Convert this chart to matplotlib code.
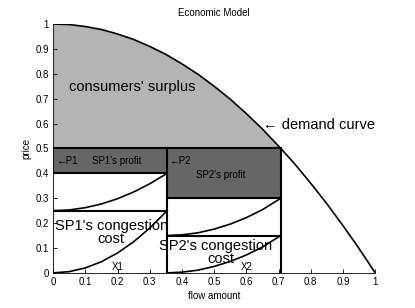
import matplotlib
matplotlib.use("Agg")
import matplotlib.pyplot as plt
import numpy as np

plt.rcParams['font.family'] = ['Liberation Sans', 'DejaVu Sans']

# demand curve
demand_x = [0, 0.05, 0.1, 0.15, 0.2, 0.25, 0.3, 0.35, 0.4, 0.45, 0.5, 0.55, 0.6, 0.65, 0.707, 0.75, 0.8, 0.85, 0.9, 0.95, 1.0]
demand_y = [1.0, 0.998, 0.99, 0.978, 0.96, 0.938, 0.91, 0.878, 0.84, 0.798, 0.75, 0.698, 0.64, 0.578, 0.5, 0.438, 0.36, 0.278, 0.19, 0.098, 0.0]

x1 = 0.354
x2 = 0.707
p_price = 0.5
sp1_top = 0.4
sp1_mid = 0.25
sp2_top = 0.3
sp2_mid = 0.15

# congestion cost curves
c1_x = [0, 0.05, 0.1, 0.15, 0.2, 0.25, 0.3, 0.354]
c1_low = [0, 0.005, 0.02, 0.045, 0.08, 0.125, 0.18, 0.25]
c1_high = [0.25, 0.253, 0.262, 0.277, 0.298, 0.325, 0.358, 0.4]
c2_x = [0.354, 0.4, 0.45, 0.5, 0.55, 0.6, 0.65, 0.707]
c2_low = [0, 0.003, 0.011, 0.026, 0.046, 0.072, 0.104, 0.15]
c2_high = [0.15, 0.153, 0.161, 0.176, 0.196, 0.222, 0.254, 0.3]

fig = plt.figure(figsize=(4.15, 3.08), dpi=100)
ax = fig.add_axes([0.128, 0.114, 0.776, 0.808])

dx = np.array(demand_x)
dy = np.array(demand_y)
m = dx <= x2 + 1e-9
ax.fill_between(dx[m], p_price, dy[m], color='#b4b4b4', lw=0)
ax.fill_between([0, x1], sp1_top, p_price, color='#666666', lw=0)
ax.fill_between([x1, x2], sp2_top, p_price, color='#666666', lw=0)

ax.plot(demand_x, demand_y, 'k', lw=1.2)
ax.plot([0, x2], [p_price, p_price], 'k', lw=1.5)
ax.plot([0, x1], [sp1_top, sp1_top], 'k', lw=1.5)
ax.plot([0, x1], [sp1_mid, sp1_mid], 'k', lw=1.5)
ax.plot([x1, x2], [sp2_top, sp2_top], 'k', lw=1.5)
ax.plot([x1, x2], [sp2_mid, sp2_mid], 'k', lw=1.5)
ax.plot([x1, x1], [0, p_price], 'k', lw=1.5)
ax.plot([x2, x2], [0, p_price], 'k', lw=1.5)
ax.plot(c1_x, c1_low, 'k', lw=1.2)
ax.plot(c1_x, c1_high, 'k', lw=1.2)
ax.plot(c2_x, c2_low, 'k', lw=1.2)
ax.plot(c2_x, c2_high, 'k', lw=1.2)

ax.text(0.05, 0.745, "consumers' surplus", fontsize=10.5, va='center')
ax.text(0.652, 0.595, "\u2190 demand curve", fontsize=10.5, va='center')
ax.text(0.01, 0.448, "\u2190P1", fontsize=7, va='center')
ax.text(0.12, 0.448, "SP1's profit", fontsize=7, va='center')
ax.text(0.36, 0.448, "\u2190P2", fontsize=7, va='center')
ax.text(0.445, 0.393, "SP2's profit", fontsize=7, va='center')
ax.text(0.18, 0.19, "SP1's congestion", fontsize=10.5, ha='center', va='center')
ax.text(0.18, 0.135, "cost", fontsize=10.5, ha='center', va='center')
ax.text(0.505, 0.11, "SP2's congestion", fontsize=10.5, ha='center', va='center')
ax.text(0.52, 0.055, "cost", fontsize=10.5, ha='center', va='center')
ax.text(0.2, 0.005, "X1", fontsize=7, ha='center', va='bottom')
ax.text(0.6, 0.003, "X2", fontsize=7, ha='center', va='bottom')

ax.set_xlim(0, 1)
ax.set_ylim(0, 1)
ax.set_xticks(np.arange(0, 1.01, 0.1))
ax.set_xticklabels(['0', '0.1', '0.2', '0.3', '0.4', '0.5', '0.6', '0.7', '0.8', '0.9', '1'])
ax.set_yticks(np.arange(0, 1.01, 0.1))
ax.set_yticklabels(['0', '0.1', '0.2', '0.3', '0.4', '0.5', '0.6', '0.7', '0.8', '0.9', '1'])
ax.tick_params(direction='in', labelsize=7, length=3, width=0.6, pad=3)
ax.spines['top'].set_visible(False)
ax.spines['right'].set_visible(False)
ax.spines['left'].set_linewidth(0.6)
ax.spines['bottom'].set_linewidth(0.6)
ax.set_title("Economic Model", fontsize=7, pad=6)
ax.set_xlabel("flow amount", fontsize=7, labelpad=3)
ax.set_ylabel("price", fontsize=7, labelpad=3)

fig.savefig("out.png", dpi=100)
